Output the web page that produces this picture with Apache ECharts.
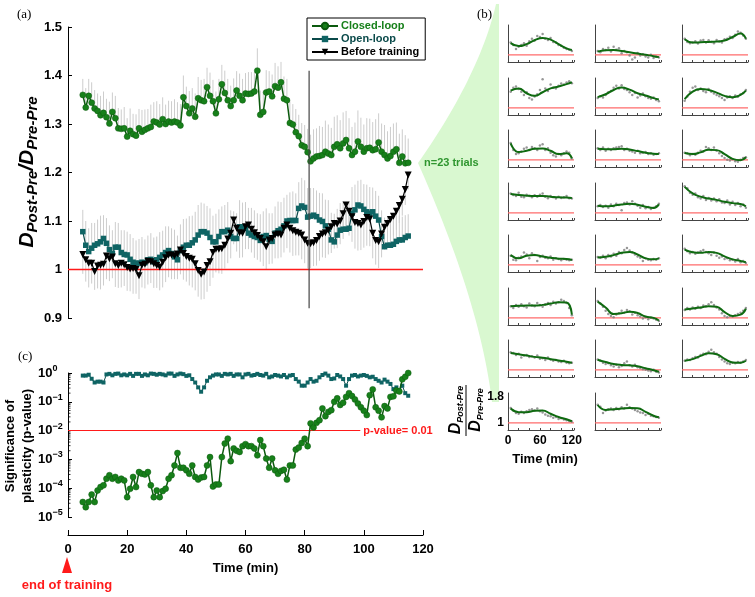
<!DOCTYPE html>
<html><head><meta charset="utf-8">
<script src="https://cdn.jsdelivr.net/npm/echarts@6/dist/echarts.min.js"></script>
<style>html,body{margin:0;padding:0;background:#fff}#c{width:755px;height:597px}</style>
</head><body><div id="c"></div>
<script>
// ---------------- DATA ----------------
const timeMin = []; for (let t = 5; t <= 115; t++) timeMin.push(t);

const closedLoop = [1.360,1.334,1.358,1.344,1.332,1.327,1.318,1.323,1.314,1.301,
 1.325,1.312,1.291,1.290,1.291,1.274,1.286,1.279,1.276,1.291,
 1.284,1.288,1.291,1.294,1.305,1.303,1.299,1.310,1.300,1.305,
 1.303,1.305,1.303,1.297,1.355,1.337,1.322,1.332,1.315,1.353,
 1.349,1.347,1.376,1.358,1.347,1.322,1.351,1.382,1.364,1.349,
 1.337,1.349,1.369,1.358,1.349,1.363,1.362,1.363,1.367,1.410,
 1.319,1.325,1.365,1.367,1.357,1.378,1.375,1.386,1.352,1.349,
 1.302,1.299,1.283,1.275,1.256,1.253,1.242,1.223,1.229,1.233,
 1.234,1.236,1.243,1.239,1.236,1.253,1.258,1.250,1.260,1.267,
 1.250,1.236,1.243,1.264,1.253,1.243,1.250,1.251,1.246,1.248,
 1.262,1.243,1.236,1.229,1.234,1.243,1.248,1.220,1.233,1.219,
 1.220];
const closedErr = [.033,.040,.035,.042,.038,.036,.040,.044,.038,.045,
 .040,.046,.042,.040,.044,.038,.046,.042,.044,.040,
 .045,.042,.040,.046,.040,.044,.042,.045,.040,.043,
 .044,.046,.042,.044,.045,.040,.046,.042,.048,.044,
 .042,.046,.040,.048,.044,.045,.042,.040,.046,.044,
 .042,.045,.040,.046,.044,.042,.045,.044,.040,.046,
 .050,.044,.046,.042,.045,.048,.044,.042,.046,.044,
 .045,.042,.048,.044,.046,.045,.048,.055,.060,.058,
 .062,.058,.064,.060,.056,.062,.060,.058,.064,.060,
 .062,.058,.060,.064,.060,.056,.062,.060,.058,.062,
 .060,.058,.062,.056,.060,.058,.055,.060,.056,.058,
 .050];
const openLoop = [1.078,1.050,1.037,1.044,1.050,1.053,1.057,1.064,1.054,1.041,
 1.033,1.046,1.046,1.035,1.031,1.030,1.021,1.015,1.013,1.013,
 1.015,1.014,1.020,1.021,1.016,1.020,1.025,1.030,1.035,1.039,
 1.033,1.026,1.020,1.039,1.046,1.050,1.050,1.055,1.061,1.071,
 1.078,1.078,1.075,1.066,1.057,1.057,1.068,1.078,1.078,1.081,
 1.068,1.064,1.064,1.088,1.088,1.085,1.075,1.071,1.068,1.066,
 1.060,1.068,1.070,1.062,1.058,1.075,1.080,1.083,1.090,1.100,
 1.101,1.101,1.101,1.126,1.131,1.128,1.108,1.110,1.112,1.109,
 1.102,1.099,1.090,1.083,1.061,1.057,1.071,1.081,1.083,1.083,
 1.085,1.116,1.123,1.133,1.131,1.124,1.119,1.116,1.119,1.110,
 1.102,1.068,1.047,1.050,1.050,1.052,1.058,1.061,1.061,1.066,
 1.069];
const openErr = [.045,.050,.048,.052,.046,.050,.054,.048,.052,.050,
 .048,.052,.050,.046,.050,.048,.052,.050,.047,.050,
 .052,.048,.050,.054,.050,.048,.052,.050,.054,.050,
 .052,.056,.050,.054,.058,.055,.060,.056,.058,.062,
 .060,.058,.056,.060,.054,.058,.056,.052,.055,.058,
 .054,.056,.052,.055,.050,.054,.052,.056,.054,.050,
 .054,.052,.056,.054,.058,.055,.060,.056,.058,.054,
 .058,.060,.056,.054,.058,.056,.060,.058,.056,.054,
 .056,.058,.054,.060,.056,.058,.054,.056,.058,.055,
 .056,.054,.052,.050,.054,.052,.056,.054,.050,.052,
 .050,.054,.060,.058,.056,.055,.052,.050,.048,.046,
 .045];
const beforeTraining = [1.031,1.020,1.013,1.013,0.996,1.007,1.009,1.011,1.028,1.022,
 1.026,1.012,1.008,1.013,1.010,1.004,1.001,1.002,1.000,0.987,
 1.009,1.011,1.017,1.016,1.012,1.008,1.005,1.015,1.024,1.030,
 1.030,1.028,1.032,1.040,1.033,1.027,1.023,1.021,1.012,0.998,
 0.990,0.995,1.008,1.016,1.035,1.042,1.042,1.043,1.050,1.063,
 1.075,1.102,1.085,1.076,1.075,1.088,1.092,1.083,1.076,1.070,
 1.064,1.057,1.047,1.061,1.064,1.071,1.073,1.071,1.085,1.092,
 1.085,1.080,1.077,1.075,1.071,1.061,1.054,1.053,1.055,1.060,
 1.068,1.073,1.076,1.081,1.088,1.095,1.094,1.100,1.115,1.133,
 1.120,1.109,1.097,1.095,1.092,1.099,1.107,1.104,1.075,1.060,
 1.057,1.073,1.087,1.095,1.103,1.110,1.120,1.132,1.145,1.165,
 1.195];
const beforeErr = [.040,.045,.050,.042,.038,.046,.050,.044,.048,.046,
 .044,.048,.046,.050,.044,.048,.046,.052,.050,.048,
 .046,.050,.048,.044,.050,.046,.048,.052,.050,.046,
 .050,.048,.052,.050,.054,.052,.056,.058,.055,.054,
 .052,.056,.054,.050,.052,.048,.050,.052,.048,.050,
 .052,.050,.048,.052,.050,.046,.050,.048,.052,.050,
 .048,.050,.046,.050,.052,.048,.050,.046,.050,.048,
 .050,.052,.048,.046,.050,.048,.052,.050,.048,.052,
 .050,.048,.052,.050,.054,.052,.050,.048,.052,.054,
 .050,.052,.054,.056,.052,.054,.058,.056,.052,.050,
 .054,.048,.046,.044,.042,.040,.038,.036,.034,.032,
 .030];
// panel (c): log10 of p-values
const closedLogP = [-4.48,-4.66,-4.48,-4.22,-4.48,-4.08,-3.96,-3.90,-3.67,-3.55,
 -3.67,-3.61,-3.73,-3.67,-3.73,-4.31,-4.02,-3.61,-3.96,-3.44,
 -3.50,-3.52,-3.44,-3.90,-4.31,-4.08,-4.31,-4.10,-4.02,-3.67,
 -3.55,-3.21,-2.78,-3.29,-3.29,-3.38,-3.50,-3.21,-3.61,-3.70,
 -3.63,-3.61,-3.21,-2.92,-3.94,-3.87,-3.87,-2.92,-2.45,-2.28,
 -3.06,-2.62,-2.70,-2.74,-2.54,-2.47,-2.54,-2.54,-2.62,-2.86,
 -2.33,-2.54,-2.97,-3.29,-2.97,-3.38,-3.50,-3.40,-3.36,-3.70,
 -3.21,-3.21,-2.66,-2.59,-2.43,-2.28,-2.54,-1.75,-1.89,-1.73,
 -1.64,-1.23,-1.50,-1.35,-1.29,-1.00,-0.88,-1.11,-1.03,-0.83,
 -0.70,-0.80,-0.92,-1.06,-1.19,-1.31,-1.46,-0.77,-0.57,-1.19,
 -1.31,-1.54,-1.15,-1.23,-0.83,-0.81,-0.61,-0.64,-0.22,-0.13,
 0.00];
const openLogP = [-0.09,-0.09,-0.06,-0.20,-0.33,-0.30,-0.30,-0.33,-0.05,-0.03,
 -0.08,-0.03,-0.02,-0.08,-0.05,-0.08,-0.03,-0.10,-0.03,-0.03,
 -0.10,-0.05,-0.08,-0.02,-0.03,-0.06,-0.03,-0.05,-0.08,-0.02,
 -0.02,-0.10,-0.05,-0.02,-0.04,-0.10,-0.08,-0.21,-0.33,-0.50,
 -0.65,-0.50,-0.27,-0.15,-0.09,-0.05,-0.05,-0.10,-0.03,-0.05,
 -0.03,-0.10,-0.05,-0.05,-0.15,-0.05,-0.03,-0.09,-0.07,-0.03,
 -0.07,-0.09,-0.03,-0.15,-0.12,-0.07,-0.09,-0.12,-0.07,-0.15,
 -0.09,-0.07,-0.21,-0.30,-0.44,-0.44,-0.33,-0.21,-0.30,-0.27,
 -0.15,-0.07,-0.02,-0.09,-0.21,-0.19,-0.07,-0.12,-0.21,-0.44,
 -0.21,-0.09,-0.07,-0.12,-0.09,-0.07,-0.10,-0.15,-0.13,-0.21,
 -0.27,-0.33,-0.23,-0.30,-0.38,-0.56,-0.50,-0.62,-0.44,-0.70,
 -0.79];
const trainingLineT = 81.5;
const baselineRatio = 1;
const pThreshold = 0.01;

// panel (b): 23 trials, smoothed curve + raw points
const trialCurveT = [5,20,35,50,65,80,95,110,120];
const trialCurves = [
 [1.36,1.27,1.33,1.45,1.52,1.47,1.33,1.20,1.15],
 [1.10,1.14,1.15,1.12,1.08,1.04,1.00,0.96,0.93],
 [1.48,1.38,1.39,1.40,1.41,1.44,1.55,1.66,1.50],
 [1.53,1.60,1.45,1.37,1.48,1.60,1.66,1.73,1.79],
 [1.33,1.42,1.55,1.63,1.56,1.45,1.38,1.30,1.26],
 [1.27,1.50,1.58,1.55,1.47,1.37,1.33,1.40,1.53],
 [1.51,1.24,1.28,1.34,1.35,1.28,1.18,1.20,1.05],
 [1.34,1.33,1.33,1.34,1.32,1.27,1.22,1.19,1.18],
 [1.21,1.18,1.23,1.31,1.30,1.18,1.03,0.99,1.08],
 [1.58,1.55,1.53,1.52,1.52,1.50,1.48,1.47,1.46],
 [1.22,1.20,1.22,1.26,1.28,1.25,1.19,1.15,1.26],
 [1.80,1.60,1.50,1.44,1.40,1.34,1.30,1.27,1.20],
 [1.30,1.20,1.28,1.30,1.26,1.22,1.19,1.18,1.15],
 [1.23,1.25,1.30,1.37,1.40,1.32,1.20,1.17,1.20],
 [1.47,1.39,1.37,1.40,1.37,1.26,1.17,1.12,1.08],
 [1.36,1.37,1.38,1.38,1.40,1.44,1.48,1.47,1.10],
 [1.50,1.32,1.12,1.14,1.19,1.15,1.04,1.00,0.92],
 [1.26,1.29,1.32,1.36,1.34,1.18,1.06,1.10,1.28],
 [1.52,1.48,1.44,1.40,1.37,1.33,1.29,1.25,1.22],
 [1.31,1.24,1.18,1.15,1.14,1.11,1.05,0.99,0.94],
 [1.28,1.33,1.43,1.51,1.48,1.34,1.23,1.22,1.28],
 [1.44,1.33,1.33,1.37,1.38,1.28,1.18,1.11,1.05],
 [1.55,1.40,1.42,1.44,1.46,1.45,1.34,1.22,1.17]
];
const trialDotT = [5,10,15,20,25,30,35,40,45,50,55,60,65,70,75,80,85,90,95,100,105,110,115,120];
const trialDots = [
 [1.38,1.30,1.18,1.25,1.30,1.36,1.28,1.42,1.50,1.44,1.58,1.55,1.64,1.50,1.46,1.52,1.40,1.38,1.30,1.28,1.22,1.18,1.16,1.12],
 [1.12,1.08,1.18,1.15,1.22,1.10,1.25,1.16,1.20,1.05,1.12,1.08,0.98,0.86,0.92,1.06,0.98,1.02,0.95,0.92,1.00,0.90,0.94,0.92],
 [1.50,1.40,1.36,1.38,1.42,1.35,1.44,1.46,1.38,1.45,1.40,1.36,1.46,1.42,1.38,1.48,1.50,1.56,1.52,1.62,1.72,1.68,1.60,1.50],
 [1.50,1.62,1.66,1.58,1.50,1.40,1.48,1.30,1.26,1.35,1.42,1.55,1.88,1.60,1.52,1.72,1.62,1.60,1.68,1.75,1.72,1.78,1.82,1.76],
 [1.30,1.36,1.32,1.40,1.48,1.52,1.62,1.68,1.60,1.70,1.58,1.55,1.48,1.40,1.46,1.32,1.38,1.44,1.36,1.30,1.28,1.32,1.24,1.20],
 [1.22,1.35,1.50,1.62,1.66,1.55,1.60,1.52,1.48,1.58,1.50,1.44,1.40,1.36,1.30,1.24,1.32,1.36,1.30,1.38,1.34,1.42,1.46,1.55],
 [1.52,1.30,1.18,1.20,1.26,1.34,1.38,1.30,1.40,1.36,1.30,1.44,1.48,1.30,1.36,1.22,1.14,1.10,1.18,1.14,1.20,1.26,1.22,1.04],
 [1.36,1.30,1.38,1.28,1.34,1.30,1.36,1.38,1.40,1.42,1.30,1.34,1.28,1.26,1.22,1.28,1.20,1.22,1.24,1.18,1.20,1.16,1.18,1.20],
 [1.22,1.20,1.14,1.18,1.16,1.22,1.28,1.26,1.40,1.36,1.30,1.38,1.28,1.20,1.12,1.06,1.00,0.98,1.02,0.96,0.94,1.00,1.06,1.08],
 [1.60,1.55,1.52,1.62,1.50,1.48,1.56,1.52,1.48,1.54,1.50,1.56,1.60,1.50,1.45,1.52,1.48,1.44,1.50,1.46,1.48,1.52,1.45,1.44],
 [1.20,1.24,1.18,1.22,1.16,1.26,1.20,1.28,1.24,1.08,1.30,1.32,1.26,1.36,1.28,1.22,1.16,1.24,1.14,1.18,1.12,1.16,1.20,1.28],
 [1.82,1.76,1.62,1.56,1.60,1.48,1.44,1.52,1.40,1.46,1.38,1.44,1.36,1.42,1.32,1.30,1.38,1.26,1.34,1.24,1.30,1.20,1.26,1.16],
 [1.28,1.16,1.14,1.22,1.26,1.38,1.32,1.20,1.36,1.30,1.12,1.24,1.28,1.22,1.20,1.26,1.16,1.20,1.18,1.14,1.18,1.16,1.14,1.16],
 [1.24,1.22,1.28,1.20,1.30,1.26,1.34,1.28,1.40,1.36,1.46,1.52,1.44,1.38,1.32,1.26,1.22,1.12,1.20,1.16,1.14,1.18,1.16,1.20],
 [1.50,1.42,1.36,1.40,1.34,1.38,1.42,1.46,1.40,1.36,1.30,1.38,1.28,1.22,1.26,1.18,1.20,1.14,1.16,1.10,1.18,1.08,1.12,1.06],
 [1.36,1.30,1.40,1.34,1.42,1.36,1.32,1.44,1.38,1.36,1.46,1.40,1.34,1.42,1.46,1.40,1.50,1.44,1.48,1.56,1.52,1.46,1.30,1.08],
 [1.52,1.44,1.34,1.22,1.12,1.06,1.02,1.10,1.14,1.22,1.16,1.24,1.20,1.10,1.16,1.08,1.04,0.98,1.02,0.96,1.00,0.98,0.94,0.90],
 [1.24,1.30,1.26,1.32,1.28,1.34,1.30,1.38,1.36,1.42,1.48,1.40,1.32,1.26,1.14,1.06,1.02,1.06,1.04,1.08,1.12,1.16,1.22,1.30],
 [1.54,1.52,1.46,1.50,1.38,1.44,1.46,1.40,1.42,1.38,1.44,1.34,1.36,1.30,1.38,1.32,1.28,1.30,1.26,1.24,1.28,1.22,1.20,1.22],
 [1.32,1.28,1.22,1.18,1.20,1.14,1.10,1.16,1.08,1.12,1.20,1.26,1.14,1.10,1.16,1.08,1.06,1.02,1.00,0.98,0.96,1.00,0.94,0.92],
 [1.28,1.32,1.30,1.36,1.40,1.38,1.46,1.50,1.48,1.56,1.62,1.54,1.50,1.40,1.32,1.26,1.20,1.18,1.22,1.20,1.24,1.22,1.26,1.30],
 [1.46,1.38,1.30,1.28,1.34,1.30,1.36,1.40,1.42,1.38,1.44,1.36,1.32,1.26,1.22,1.20,1.16,1.18,1.12,1.14,1.10,1.08,1.06,1.04],
 [1.56,1.50,1.30,1.38,1.42,1.44,1.40,1.46,1.42,1.48,1.44,1.56,1.48,1.44,1.40,1.36,1.32,1.30,1.24,1.28,1.22,1.20,1.18,1.16]
];
const smallXTicks = [0, 60, 120];
const smallYTicks = [1, 1.8];

// ---------------- STYLE ----------------
const FONT = '"Liberation Sans", Arial, Helvetica, sans-serif';
const SERIF = '"Liberation Serif", "Times New Roman", serif';
const GREEN = '#17801a', GREEN_D = '#0c5a0e', TEAL = '#0f6464', TEAL_D = '#0a4a4a';
const RED = '#ff1a1a', BAR = '#cdcdcd';

const pair = (xs, ys) => ys.map((v, i) => [xs[i], v]);

function errBars(name, gi, vals, err, dir) {
  const data = vals.map((v, i) => dir > 0 ? [timeMin[i], v, v + err[i]] : [timeMin[i], v - err[i], v]);
  return {
    type: 'custom', name: name, xAxisIndex: gi, yAxisIndex: gi, silent: true, z: 1,
    encode: { x: 0, y: [1, 2] },
    renderItem: function (params, api) {
      const a = api.coord([api.value(0), api.value(1)]);
      const b = api.coord([api.value(0), api.value(2)]);
      return { type: 'line', shape: { x1: a[0], y1: a[1], x2: b[0], y2: b[1] }, style: { stroke: BAR, lineWidth: 1 } };
    },
    data: data
  };
}
// straight reference segment between two data points, drawn through the axes
function refSeg(gi, p1, p2, color, width, z) {
  return { type: 'custom', xAxisIndex: gi, yAxisIndex: gi, silent: true, z: z,
    encode: { x: [0, 2], y: [1, 3] }, data: [[p1[0], p1[1], p2[0], p2[1]]],
    renderItem: function (params, api) {
      const a = api.coord([api.value(0), api.value(1)]);
      const b = api.coord([api.value(2), api.value(3)]);
      return { type: 'line', shape: { x1: a[0], y1: a[1], x2: b[0], y2: b[1] }, style: { stroke: color, lineWidth: width } };
    } };
}

const grids = [
  { left: 68, top: 27, width: 355, height: 291, outerBoundsMode: 'none' },
  { left: 68, top: 373, width: 355, height: 144, outerBoundsMode: 'none' }
];
const boldLabel = { fontFamily: FONT, fontWeight: 'bold', fontSize: 13, color: '#000' };
const xAxes = [
  { gridIndex: 0, type: 'value', min: 0, max: 120, show: false,
    axisLine: { show: false, onZero: false }, axisTick: { show: false }, axisLabel: { show: false }, splitLine: { show: false } },
  { gridIndex: 1, type: 'value', min: 0, max: 120, interval: 20, position: 'bottom', offset: 18,
    axisLine: { show: true, onZero: false, lineStyle: { color: '#000', width: 1 } },
    axisTick: { show: true, inside: true, length: 5, lineStyle: { color: '#000' } },
    axisLabel: Object.assign({ margin: 8 }, boldLabel),
    splitLine: { show: false },
    name: 'Time (min)', nameLocation: 'middle', nameGap: 27,
    nameTextStyle: { fontFamily: FONT, fontWeight: 'bold', fontSize: 13, color: '#000' } }
];
const yAxes = [
  { gridIndex: 0, type: 'value', min: 0.9, max: 1.5, interval: 0.1,
    axisLine: { show: true, onZero: false, lineStyle: { color: '#000', width: 1 } },
    axisTick: { show: true, inside: true, length: 4, lineStyle: { color: '#000' } },
    axisLabel: Object.assign({ margin: 6 }, boldLabel),
    splitLine: { show: false } },
  { gridIndex: 1, type: 'log', logBase: 10, min: 1e-5, max: 1, splitNumber: 5,
    axisLine: { show: true, onZero: false, lineStyle: { color: '#000', width: 1 } },
    axisTick: { show: true, inside: true, length: 4, lineStyle: { color: '#000' } },
    axisLabel: { align: 'left', margin: 30,
      formatter: function (v) { const e = Math.round(Math.log10(v)); return '{b|10}{s|' + (e < 0 ? '\u2212' + (-e) : e) + '}'; },
      rich: { b: { fontFamily: FONT, fontWeight: 'bold', fontSize: 13, lineHeight: 18, color: '#000', verticalAlign: 'middle' },
              s: { fontFamily: FONT, fontWeight: 'bold', fontSize: 9, lineHeight: 10, color: '#000', verticalAlign: 'top' } } },
    splitLine: { show: false } }
];

const series = [
  errBars('errC', 0, closedLoop, closedErr, 1),
  errBars('errO', 0, openLoop, openErr, 1),
  errBars('errB', 0, beforeTraining, beforeErr, -1),
  refSeg(0, [0, baselineRatio], [120, baselineRatio], RED, 1.5, 2),
  { type: 'line', name: 'Open-loop', xAxisIndex: 0, yAxisIndex: 0, data: pair(timeMin, openLoop), z: 3,
    symbol: 'rect', symbolSize: 5.5, lineStyle: { color: TEAL_D, width: 1.2 }, itemStyle: { color: TEAL } },
  { type: 'line', name: 'Before training', xAxisIndex: 0, yAxisIndex: 0, data: pair(timeMin, beforeTraining), z: 4,
    symbol: 'triangle', symbolRotate: 180, symbolSize: 7, lineStyle: { color: '#000', width: 1.2 }, itemStyle: { color: '#000' } },
  { type: 'line', name: 'Closed-loop', xAxisIndex: 0, yAxisIndex: 0, data: pair(timeMin, closedLoop), z: 5,
    symbol: 'circle', symbolSize: 6, lineStyle: { color: GREEN_D, width: 1.5 }, itemStyle: { color: GREEN, borderColor: GREEN_D, borderWidth: 0.5 } },
  refSeg(0, [trainingLineT, 1.41], [trainingLineT, 0.92], '#444', 1.2, 6),
  { type: 'line', name: 'Open-loop', xAxisIndex: 1, yAxisIndex: 1, data: pair(timeMin, openLogP.map(e => Math.pow(10, e))), z: 3,
    symbol: 'rect', symbolSize: 4, lineStyle: { color: TEAL_D, width: 1 }, itemStyle: { color: TEAL },
    markLine: { silent: true, symbol: 'none', animation: false,
      lineStyle: { color: RED, width: 1, type: 'solid' },
      label: { show: true, position: 'end', formatter: 'p-value= 0.01', color: RED, fontFamily: FONT, fontWeight: 'bold', fontSize: 11, distance: 3 },
      data: [ [{ coord: [0, pThreshold] }, { coord: [98.8, pThreshold] }] ] } },
  { type: 'line', name: 'Closed-loop', xAxisIndex: 1, yAxisIndex: 1, data: pair(timeMin, closedLogP.map(e => Math.pow(10, e))), z: 5,
    symbol: 'circle', symbolSize: 6, lineStyle: { color: GREEN_D, width: 1.5 }, itemStyle: { color: GREEN, borderColor: GREEN_D, borderWidth: 0.5 },
    markLine: { silent: true, symbol: 'none', animation: false, label: { show: false },
      lineStyle: { color: '#444', width: 1.2, type: 'solid' },
      data: [ [{ coord: [trainingLineT, Math.pow(10, -1.71)] }, { coord: [trainingLineT, Math.pow(10, -5.65)] }] ] } }
];
// minor ticks on the log axis (2..9 x 10^n)
const minorTickVals = [];
for (let n = -5; n < 0; n++) for (let m = 2; m <= 9; m++) minorTickVals.push([0, m * Math.pow(10, n)]);
series.push({ type: 'custom', xAxisIndex: 1, yAxisIndex: 1, silent: true, encode: { x: 0, y: 1 }, data: minorTickVals,
  renderItem: function (params, api) {
    const p = api.coord([api.value(0), api.value(1)]);
    return { type: 'line', shape: { x1: p[0], y1: p[1], x2: p[0] + 2.5, y2: p[1] }, style: { stroke: '#000', lineWidth: 0.8 } };
  } });

// small multiples
for (let k = 0; k < 23; k++) {
  const r = Math.floor(k / 3), c = k % 3;
  const gi = grids.length;
  const labelled = (k === 21);
  grids.push({ left: 508 + c * 87, top: Math.round(25 + r * 52.5), width: 66, height: 37, outerBoundsMode: 'none' });
  xAxes.push({ gridIndex: gi, type: 'value', min: 0, max: 124, interval: 20,
    axisLine: { show: true, onZero: false, lineStyle: { color: '#444', width: 1 } },
    axisTick: { show: true, inside: true, length: 2, lineStyle: { color: '#444' } },
    axisLabel: labelled ? { show: true, customValues: smallXTicks, margin: 5, fontFamily: FONT, fontWeight: 'bold', fontSize: 12, color: '#000' } : { show: false },
    splitLine: { show: false } });
  yAxes.push({ gridIndex: gi, type: 'value', min: 0.78, max: 1.92,
    axisLine: { show: true, onZero: false, lineStyle: { color: '#444', width: 1 } },
    axisTick: { show: false },
    axisLabel: labelled ? { show: true, customValues: smallYTicks, margin: 4, fontFamily: FONT, fontWeight: 'bold', fontSize: 12, color: '#000' } : { show: false },
    splitLine: { show: false } });
  series.push(refSeg(gi, [0, baselineRatio], [124, baselineRatio], '#ff6b6b', 1.3, 1));
  series.push({ type: 'scatter', xAxisIndex: gi, yAxisIndex: gi, data: pair(trialDotT, trialDots[k]), symbolSize: 2.5, silent: true,
    itemStyle: { color: '#7d7d7d' }, z: 2 });
  series.push({ type: 'line', xAxisIndex: gi, yAxisIndex: gi, data: pair(trialCurveT, trialCurves[k]), smooth: 0.5, showSymbol: false, silent: true,
    lineStyle: { color: '#0f6a10', width: 2 }, z: 3 });
}

// fan shape (decoration) as polygon sampled from two cubic Beziers
function bez(p0, p1, p2, p3, n) {
  const out = [];
  for (let i = 0; i <= n; i++) {
    const t = i / n, u = 1 - t;
    out.push([u*u*u*p0[0] + 3*u*u*t*p1[0] + 3*u*t*t*p2[0] + t*t*t*p3[0],
              u*u*u*p0[1] + 3*u*u*t*p1[1] + 3*u*t*t*p2[1] + t*t*t*p3[1]]);
  }
  return out;
}
const fanPts = bez([418,163],[450,118],[484,58],[496,4],30)
  .concat([[499,4],[499,402]])
  .concat(bez([492,402],[482,320],[450,235],[418,163],30));

const subTxt = { fontFamily: FONT, fontWeight: 'bold', fontStyle: 'italic', color: '#000' };
const graphic = [
  { type: 'polygon', z: 0, shape: { points: fanPts }, style: { fill: '#d9f8d0' } },
  { type: 'text', x: 424, y: 163, z: 10, style: { text: 'n=23 trials', fill: '#2f962f', font: 'bold 11px ' + FONT, verticalAlign: 'middle' } },
  { type: 'text', x: 17, y: 15, style: { text: '(a)', fill: '#000', font: '13px ' + SERIF, verticalAlign: 'middle' } },
  { type: 'text', x: 477, y: 15, style: { text: '(b)', fill: '#000', font: '13px ' + SERIF, verticalAlign: 'middle' } },
  { type: 'text', x: 18, y: 357, style: { text: '(c)', fill: '#000', font: '13px ' + SERIF, verticalAlign: 'middle' } },
  { type: 'text', x: 27, y: 172, rotation: Math.PI / 2,
    style: { text: '{D|D}{s|Post-Pre}{D|/}{D|D}{s|Pre-Pre}', align: 'center', verticalAlign: 'middle',
      rich: { D: Object.assign({ fontSize: 21, lineHeight: 26, verticalAlign: 'middle' }, subTxt),
              s: Object.assign({ fontSize: 15, lineHeight: 15, verticalAlign: 'bottom' }, subTxt) } } },
  { type: 'text', x: 19, y: 446, rotation: Math.PI / 2,
    style: { text: 'Significance of\nplasticity (p-value)', align: 'center', verticalAlign: 'middle', lineHeight: 17,
      font: 'bold 13px ' + FONT, fill: '#000' } },
  { type: 'text', x: 456, y: 410, rotation: Math.PI / 2,
    style: { text: '{D|D}{s|Post-Pre}', align: 'center', verticalAlign: 'middle',
      rich: { D: Object.assign({ fontSize: 16, lineHeight: 18, verticalAlign: 'middle' }, subTxt),
              s: Object.assign({ fontSize: 9, lineHeight: 9, verticalAlign: 'bottom' }, subTxt) } } },
  { type: 'line', shape: { x1: 466, y1: 385, x2: 466, y2: 436 }, style: { stroke: '#000', lineWidth: 1 } },
  { type: 'text', x: 476, y: 410, rotation: Math.PI / 2,
    style: { text: '{D|D}{s|Pre-Pre}', align: 'center', verticalAlign: 'middle',
      rich: { D: Object.assign({ fontSize: 16, lineHeight: 18, verticalAlign: 'middle' }, subTxt),
              s: Object.assign({ fontSize: 9, lineHeight: 9, verticalAlign: 'bottom' }, subTxt) } } },
  { type: 'text', x: 545, y: 459, style: { text: 'Time (min)', align: 'center', verticalAlign: 'middle', font: 'bold 13px ' + FONT, fill: '#000' } },
  { type: 'polygon', shape: { points: [[67, 557], [62, 573], [72, 573]] }, style: { fill: '#ff1a1a' } },
  { type: 'text', x: 67, y: 585, style: { text: 'end of training', align: 'center', verticalAlign: 'middle', font: 'bold 13px ' + FONT, fill: '#ff1a1a' } }
];

const chart = echarts.init(document.getElementById('c'), null, { renderer: 'canvas' });
chart.setOption({
  animation: false,
  backgroundColor: '#fff',
  legend: {
    left: 307, top: 18, orient: 'vertical', itemGap: 1, itemWidth: 26, itemHeight: 8,
    padding: [2, 6, 2, 4], borderColor: '#000', borderWidth: 1, backgroundColor: '#fff',
    selectedMode: false,
    textStyle: { fontFamily: FONT, fontWeight: 'bold', fontSize: 11, lineHeight: 12, padding: [0, 0, 0, -2] },
    data: [
      { name: 'Closed-loop', textStyle: { color: GREEN } },
      { name: 'Open-loop', textStyle: { color: TEAL_D } },
      { name: 'Before training', textStyle: { color: '#000' } }
    ]
  },
  grid: grids, xAxis: xAxes, yAxis: yAxes, series: series, graphic: graphic
});
</script></body></html>
